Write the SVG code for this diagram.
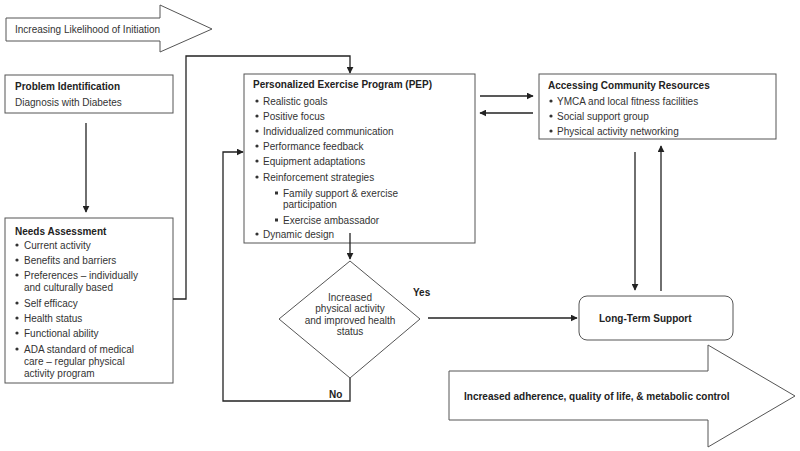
<svg xmlns="http://www.w3.org/2000/svg" width="800" height="451" viewBox="0 0 800 451">
<defs>
<marker id="ah" viewBox="0 0 10 10" refX="9" refY="5" markerWidth="7" markerHeight="7" markerUnits="userSpaceOnUse" orient="auto"><path d="M0,0 L10,5 L0,10 z" fill="#222"/></marker>
<style>
text{font-family:"Liberation Sans",Arial,sans-serif;font-size:10px;fill:#333}
.b{font-weight:bold;fill:#222}
.box{fill:#fff;stroke:#555;stroke-width:1}
.ln{fill:none;stroke:#222;stroke-width:1.3}
.bul{fill:#333}
</style>
</defs>
<rect width="800" height="451" fill="#fff"/>

<g id="arrow-initiation">
<polygon class="box" points="6,18 160,18 160,5 212,29 160,52 160,41 6,41"/>
<text x="15" y="33">Increasing Likelihood of Initiation</text>
</g>

<g id="problem-identification">
<rect class="box" x="5" y="75" width="168" height="38"/>
<text class="b" x="15" y="90">Problem Identification</text>
<text x="15" y="106">Diagnosis with Diabetes</text>
</g>

<g id="needs-assessment">
<rect class="box" x="5" y="218" width="168" height="165"/>
<text class="b" x="15" y="235">Needs Assessment</text>
<g class="bul">
<circle cx="17" cy="245" r="1.6"/><circle cx="17" cy="260" r="1.6"/><circle cx="17" cy="275" r="1.6"/><circle cx="17" cy="303" r="1.6"/><circle cx="17" cy="318" r="1.6"/><circle cx="17" cy="333" r="1.6"/><circle cx="17" cy="349" r="1.6"/>
</g>
<text x="24" y="248.5">Current activity</text>
<text x="24" y="263.5">Benefits and barriers</text>
<text x="24" y="278.5">Preferences – individually</text>
<text x="24" y="290.5">and culturally based</text>
<text x="24" y="306.5">Self efficacy</text>
<text x="24" y="321.5">Health status</text>
<text x="24" y="336.5">Functional ability</text>
<text x="24" y="352.5">ADA standard of medical</text>
<text x="24" y="364.5">care – regular physical</text>
<text x="24" y="376.5">activity program</text>
</g>

<g id="pep">
<rect class="box" x="244" y="74" width="231" height="169"/>
<text class="b" x="253" y="88">Personalized Exercise Program (PEP)</text>
<g class="bul">
<circle cx="257" cy="101" r="1.6"/><circle cx="257" cy="116" r="1.6"/><circle cx="257" cy="131" r="1.6"/><circle cx="257" cy="146" r="1.6"/><circle cx="257" cy="161" r="1.6"/><circle cx="257" cy="177" r="1.6"/><circle cx="257" cy="234" r="1.6"/>
<rect x="275" y="191.5" width="3" height="3"/><rect x="275" y="218.5" width="3" height="3"/>
</g>
<text x="263" y="104.5">Realistic goals</text>
<text x="263" y="119.5">Positive focus</text>
<text x="263" y="134.5">Individualized communication</text>
<text x="263" y="149.5">Performance feedback</text>
<text x="263" y="164.5">Equipment adaptations</text>
<text x="263" y="180.5">Reinforcement strategies</text>
<text x="283" y="196.5">Family support &amp; exercise</text>
<text x="283" y="208">participation</text>
<text x="283" y="223.5">Exercise ambassador</text>
<text x="263" y="237.5">Dynamic design</text>
</g>

<g id="community-resources">
<rect class="box" x="539" y="74" width="237" height="65"/>
<text class="b" x="548" y="88.5">Accessing Community Resources</text>
<g class="bul">
<circle cx="551" cy="101" r="1.6"/><circle cx="551" cy="116" r="1.6"/><circle cx="551" cy="131" r="1.6"/>
</g>
<text x="557" y="104.5">YMCA and local fitness facilities</text>
<text x="557" y="119.5">Social support group</text>
<text x="557" y="134.5">Physical activity networking</text>
</g>

<g id="decision">
<polygon class="box" points="350,261 420,319 350,378 279,319"/>
<text x="350" y="300.5" text-anchor="middle">Increased</text>
<text x="350" y="312" text-anchor="middle">physical activity</text>
<text x="350" y="323.5" text-anchor="middle">and improved health</text>
<text x="350" y="335" text-anchor="middle">status</text>
</g>

<g id="long-term-support">
<rect class="box" x="579" y="296" width="154" height="44" rx="8"/>
<text class="b" x="599" y="321.5">Long-Term Support</text>
</g>

<g id="arrow-outcome">
<polygon class="box" points="449,371 708,371 708,345 795,396 708,447 708,420 449,420"/>
<text class="b" x="464" y="399.5">Increased adherence, quality of life, &amp; metabolic control</text>
</g>

<g id="connectors">
<line class="ln" x1="86" y1="123" x2="86" y2="212" marker-end="url(#ah)"/>
<polyline class="ln" points="173,299 186,299 186,56 350,56 350,73" marker-end="url(#ah)"/>
<line class="ln" x1="480" y1="96" x2="533" y2="96" marker-end="url(#ah)"/>
<line class="ln" x1="533" y1="113" x2="480" y2="113" marker-end="url(#ah)"/>
<line class="ln" x1="350" y1="233" x2="350" y2="259" marker-end="url(#ah)"/>
<polyline class="ln" points="350,378 350,401 223,401 223,152 243,152" marker-end="url(#ah)"/>
<line class="ln" x1="428" y1="318" x2="577" y2="318" marker-end="url(#ah)"/>
<line class="ln" x1="635" y1="152" x2="635" y2="290" marker-end="url(#ah)"/>
<line class="ln" x1="661" y1="291" x2="661" y2="146" marker-end="url(#ah)"/>
<text class="b" x="413" y="296">Yes</text>
<text class="b" x="329" y="398">No</text>
</g>
</svg>
